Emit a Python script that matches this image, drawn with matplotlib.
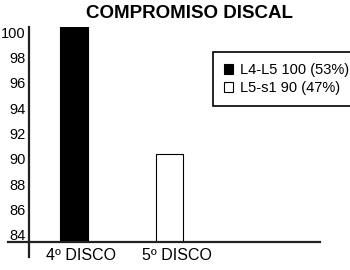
import numpy as np
import matplotlib
matplotlib.use("Agg")
import matplotlib.pyplot as plt
from matplotlib.transforms import ScaledTranslation

plt.rcParams["font.family"] = ["Liberation Sans", "DejaVu Sans"]

discos = ["4º DISCO", "5º DISCO"]
valores = [100, 90]
leyenda = ["L4-L5 100 (53%)", "L5-s1 90 (47%)"]
yticks = [84, 86, 88, 90, 92, 94, 96, 98, 100]

fig = plt.figure(figsize=(3.5, 2.7), dpi=100)
ax = fig.add_axes([29/350, 28/270, 291/350, 215/270])

x = np.arange(len(discos))
barras = ax.bar(x, valores, width=0.29, color=["black", "white"],
                edgecolor="black", linewidth=0.8)
ax.set_xlim(-0.471, 2.576)
ax.set_ylim(83.05, 100)

for s in ax.spines.values():
    s.set_visible(False)
# ejes que sobresalen un poco
ax.plot([-0.072, 1.0], [0, 0], color="#222222", lw=1.6, transform=ax.transAxes, clip_on=False)
ax.plot([0, 0], [-0.07, 1.0], color="#222222", lw=1.6, transform=ax.transAxes, clip_on=False)

ax.set_yticks(yticks)
ax.set_yticklabels([str(v) for v in yticks], fontsize=10.5)
ax.tick_params(axis="y", length=0, pad=2.5)
for lab in ax.get_yticklabels():
    lab.set_transform(lab.get_transform() + ScaledTranslation(0, -5/100, fig.dpi_scale_trans))

ax.set_xticks(x)
ax.set_xticklabels(discos, fontsize=11.5)
ax.tick_params(axis="x", length=0, pad=4)
for lab in ax.get_xticklabels():
    lab.set_transform(lab.get_transform() + ScaledTranslation(7/100, 0, fig.dpi_scale_trans))

fig.text(189/350, 1 - 13/270, "COMPROMISO DISCAL", ha="center", va="center",
         fontsize=13.5, fontweight="bold")

leg = ax.legend(barras, leyenda, loc="upper left", bbox_to_anchor=(0.632, 0.884),
                borderaxespad=0, fontsize=10.5, fancybox=False, framealpha=1,
                handlelength=0.65, handleheight=0.65, handletextpad=0.45,
                borderpad=0.75, labelspacing=0.3)
leg.get_frame().set_edgecolor("black")
leg.get_frame().set_linewidth(1.2)

fig.savefig("out.png", dpi=100)
